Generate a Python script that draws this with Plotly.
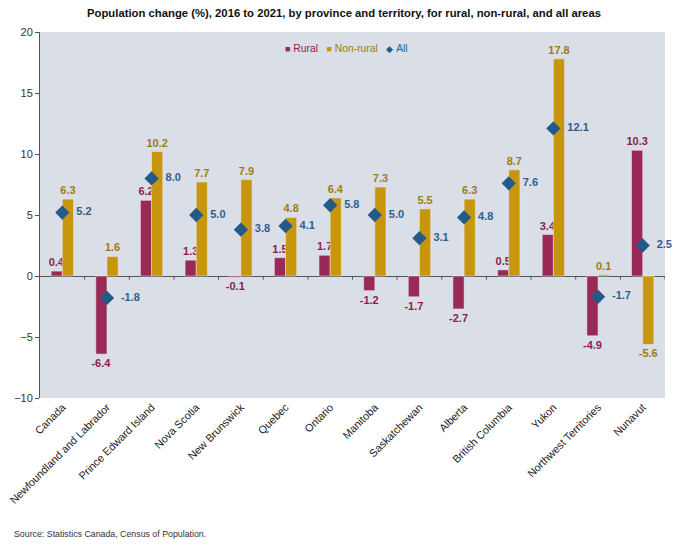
import plotly.graph_objects as go

# population change (%), 2016 to 2021
regions = ['Canada', 'Newfoundland and Labrador', 'Prince Edward Island', 'Nova Scotia',
           'New Brunswick', 'Quebec', 'Ontario', 'Manitoba', 'Saskatchewan', 'Alberta',
           'British Columbia', 'Yukon', 'Northwest Territories', 'Nunavut']
rural = [0.4, -6.4, 6.2, 1.3, -0.1, 1.5, 1.7, -1.2, -1.7, -2.7, 0.5, 3.4, -4.9, 10.3]
non_rural = [6.3, 1.6, 10.2, 7.7, 7.9, 4.8, 6.4, 7.3, 5.5, 6.3, 8.7, 17.8, 0.1, -5.6]
all_areas = [5.2, -1.8, 8.0, 5.0, 3.8, 4.1, 5.8, 5.0, 3.1, 4.8, 7.6, 12.1, -1.7, 2.5]

rural_col = '#982A55'
rural_txt = '#8A1F4A'
nonrural_col = '#C8960C'
nonrural_txt = '#A27A14'
all_col = '#245A8A'
all_txt = '#2F5E8E'
lbl_font = 'Liberation Sans, Arial, sans-serif'

fig = go.Figure()
fig.add_trace(go.Bar(x=regions, y=rural, name='Rural',
                     marker_color=rural_col,
                     texttemplate='%{y:.1f}', textposition='outside',
                     constraintext='none', cliponaxis=False,
                     textfont=dict(color=rural_txt, size=11, family=lbl_font, weight='bold')))
fig.add_trace(go.Bar(x=regions, y=non_rural, name='Non-rural',
                     marker_color=nonrural_col,
                     texttemplate='%{y:.1f}', textposition='outside',
                     constraintext='none', cliponaxis=False,
                     textfont=dict(color=nonrural_txt, size=11, family=lbl_font, weight='bold')))
fig.add_trace(go.Scatter(x=regions, y=all_areas, mode='markers+text', name='All',
                         marker=dict(symbol='diamond', size=11, color=all_col),
                         text=['  %.1f' % v for v in all_areas], textposition='middle right',
                         cliponaxis=False,
                         textfont=dict(color=all_txt, size=11, family=lbl_font, weight='bold')))

# small tick marks on the zero line between categories
for i in range(1, len(regions) + 1):
    fig.add_shape(type='line', xref='x', yref='y', x0=i - 0.5, x1=i - 0.5, y0=0, y1=-0.3,
                  line=dict(color='#555555', width=1))

gap = '&nbsp;&nbsp;&nbsp;'
legend_txt = ('<span style="color:%s;font-size:9px">■</span>&nbsp;<span style="color:%s">Rural</span>%s'
              '<span style="color:%s;font-size:9px">■</span>&nbsp;<span style="color:%s">Non-rural</span>%s'
              '<span style="color:%s;font-size:9px">◆</span>&nbsp;<span style="color:%s">All</span>'
              % (rural_col, rural_txt, gap, nonrural_col, nonrural_txt, gap, all_col, all_txt))

# page body has an 8px margin, so the figure is drawn 8px smaller
fig.update_layout(
    width=672, height=539,
    margin=dict(l=32, r=15, t=24, b=149),
    paper_bgcolor='white', plot_bgcolor='#D9DEE7',
    font=dict(family=lbl_font, size=11, color='#333333'),
    title=dict(text='<b>Population change (%), 2016 to 2021, by province and territory, for rural, non-rural, and all areas</b>',
               x=0.5, xanchor='center', y=0.998, yanchor='top',
               font=dict(size=11.3, color='#111111')),
    barmode='group', bargap=0.5, bargroupgap=0,
    showlegend=False,
    xaxis=dict(range=[-0.5, len(regions) - 0.5], tickangle=-45, showgrid=False,
               ticks='', showline=False, automargin=False,
               tickfont=dict(size=10.8, color='#222222')),
    yaxis=dict(range=[-10, 20], dtick=5, showgrid=False, zeroline=True,
               zerolinecolor='#555555', zerolinewidth=1, showline=True,
               linecolor='#555555', linewidth=1, ticks='outside', ticklen=4,
               tickcolor='#555555', automargin=False,
               tickfont=dict(size=11, color='#333333')),
    annotations=[
        dict(text=legend_txt, xref='paper', yref='paper', x=0.388, xanchor='left',
             y=0.956, yanchor='middle', showarrow=False, font=dict(size=10.3)),
        dict(text='Source: Statistics Canada, Census of Population.',
             xref='paper', yref='paper', x=-0.045, xanchor='left',
             y=-0.372, yanchor='middle', showarrow=False,
             font=dict(size=8.8, color='#333333'))],
)

fig.write_html("out.html")
